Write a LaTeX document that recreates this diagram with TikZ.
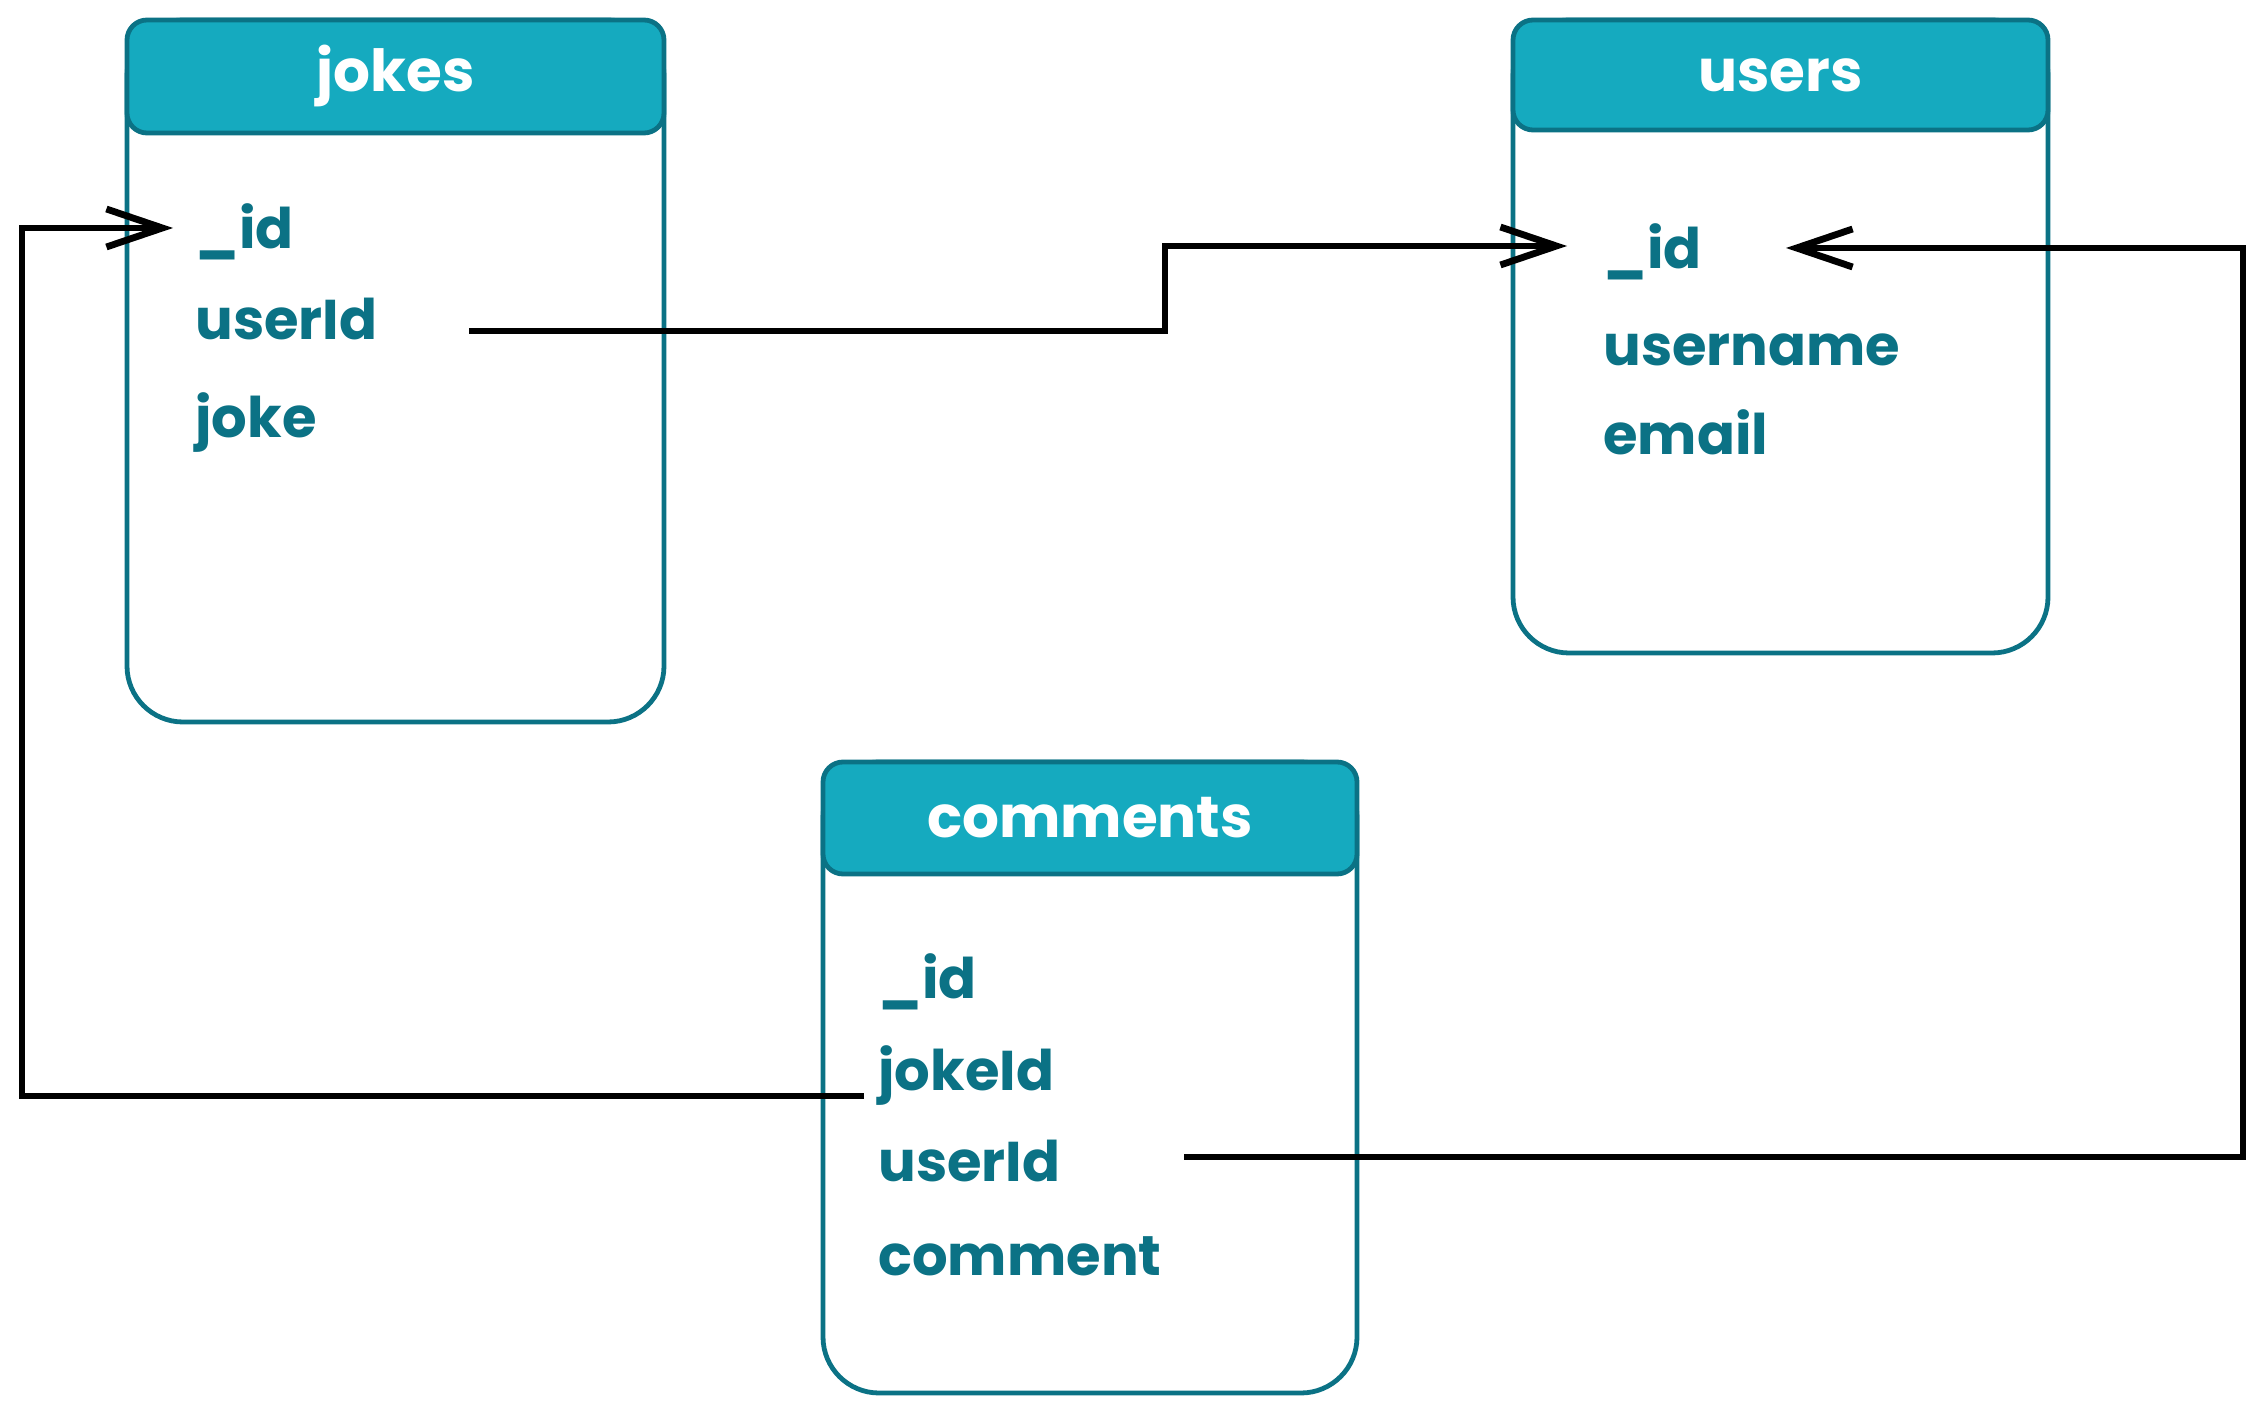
\documentclass[tikz,border=0pt]{standalone}
\usepackage{fontspec}
\setmainfont{Poppins}
\usetikzlibrary{arrows.meta,calc}
\definecolor{tealstroke}{HTML}{0B7285}
\definecolor{tealfill}{HTML}{15AABF}
\begin{document}
\begin{tikzpicture}[x=0.5pt,y=-0.5pt,
  body/.style={draw=tealstroke, line width=2.4pt, fill=white, rounded corners=28pt},
  head/.style={draw=tealstroke, line width=2.4pt, fill=tealfill, rounded corners=10pt},
  title/.style={text=white, font=\fontsize{29}{34}\selectfont\bfseries, inner sep=0pt},
  field/.style={text=tealstroke, font=\fontsize{28}{34}\selectfont\bfseries, inner sep=0pt, anchor=mid west},
  link/.style={draw=black, line width=3.4pt, line join=miter},
  barb/.style={-{Straight Barb[length=28pt,width=19pt]}}
]
\useasboundingbox (0,0) rectangle (2264,1416);

% tables
\path[body] (127,20) rectangle (664,722);
\path[head] (127,20) rectangle (664,133);
\node[title] (jokes) at (395.5,76) {jokes};

\path[body] (1513,20) rectangle (2048,653);
\path[head] (1513,20) rectangle (2048,130);
\node[title] (users) at (1780.5,75) {users};

\path[body] (823,762) rectangle (1357,1393);
\path[head] (823,762) rectangle (1357,874);
\node[title] (comments) at (1090,818) {comments};

% fields
\node[field] (j-id) at (195,243) {\_id};
\node[field] (j-userId) at (195,334) {userId};
\node[field] (j-joke) at (195,432) {joke};

\node[field] (u-id) at (1603,263) {\_id};
\node[field] (u-username) at (1603,360) {username};
\node[field] (u-email) at (1603,449) {email};

\node[field] (c-id) at (878,993) {\_id};
\node[field] (c-jokeId) at (878,1085) {jokeId};
\node[field] (c-userId) at (878,1176) {userId};
\node[field] (c-comment) at (878,1270) {comment};

% bend columns
\coordinate (bendL) at (22,0);
\coordinate (bendM) at (1165,0);
\coordinate (bendR) at (2243,0);

% comments.jokeId -> jokes._id
\coordinate (s1) at ($(c-jokeId.mid west)+(-14,11)$);
\coordinate (e1) at ($(j-id.mid west)+(-22,-15)$);
\draw[link,barb] (s1) -- (s1 -| bendL) -- (e1 -| bendL) -- (e1);

% jokes.userId -> users._id
\coordinate (s2) at ($(j-userId.mid west)+(274,-3)$);
\coordinate (e2) at ($(u-id.mid west)+(-36,-17)$);
\draw[link,barb] (s2) -- (s2 -| bendM) -- (e2 -| bendM) -- (e2);

% comments.userId -> users._id
\coordinate (s3) at ($(c-userId.mid west)+(306,-19)$);
\coordinate (e3) at ($(u-id.mid west)+(183,-15)$);
\draw[link,barb] (s3) -- (s3 -| bendR) -- (e3 -| bendR) -- (e3);
\end{tikzpicture}
\end{document}
